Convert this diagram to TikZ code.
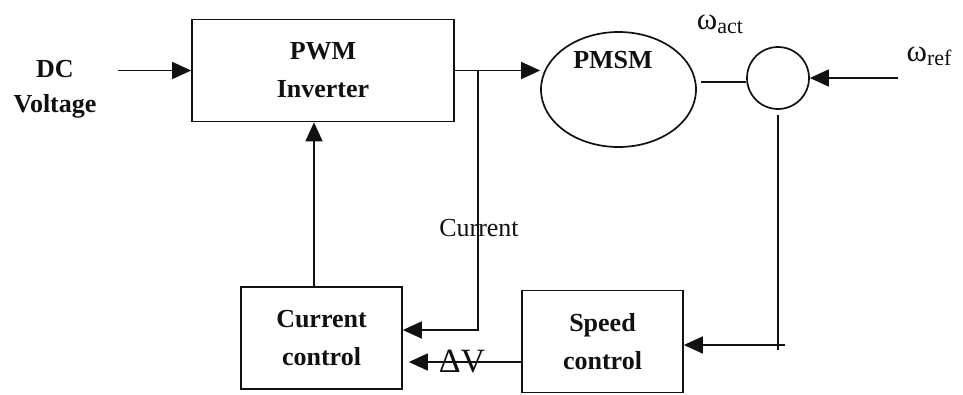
\documentclass[tikz,border=0pt]{standalone}
\usepackage{fontspec}
\setmainfont{Liberation Serif}
\usetikzlibrary{arrows.meta, positioning, calc, shapes.geometric}
\definecolor{inkline}{HTML}{111111}
\newcommand{\ctrlbox}[4]{%
  \node[draw=inkline, line width=1.7pt, minimum width=#3pt, minimum height=102pt,
        inner sep=0pt, align=center, text=inkline,
        font=\bfseries\fontsize{26}{38}\selectfont] (#1) at (#2) {#4};}

\begin{document}
\begin{tikzpicture}[x=1pt, y=-1pt, line width=1.7pt, color=inkline,
    sig/.style={-{Triangle[length=19pt, width=17pt]}},
    boldtxt/.style={font=\bfseries\fontsize{26}{35}\selectfont, align=center},
    plaintxt/.style={font=\fontsize{26}{30}\selectfont}]
  \useasboundingbox (0,0) rectangle (963,394);
  \ctrlbox{pwm}{323,70.5}{262}{PWM\\Inverter}
  \ctrlbox{curr}{321.5,338}{161}{Current\\control}
  \ctrlbox{speed}{602.5,341.5}{161}{Speed\\control}
  \node[draw, ellipse, minimum width=155pt, minimum height=115pt, inner sep=0pt] (pmsm) at (618.5,89.5) {};
  \node[boldtxt] (pmsmtxt) at (613,60) {PMSM};
  \node[draw, circle, minimum size=62pt, inner sep=0pt] (sum) at (778,78) {};
  \node[boldtxt] (dc) at (55,89) {DC\\Voltage};
  \node[plaintxt] (wact) at (720,24) {\fontsize{31}{31}\selectfont ω\raisebox{-4pt}{\fontsize{22}{22}\selectfont act}};
  \node[plaintxt] (wref) at (929,56) {\fontsize{31}{31}\selectfont ω\raisebox{-4pt}{\fontsize{22}{22}\selectfont ref}};
  \node[plaintxt] (curlbl) at (479,228) {Current};
  % forward path
  \coordinate (dcin) at (118,70.5);
  \draw[sig] (dcin) -- (pwm.west);
  \draw[sig] (pwm.east) -- (pwm.east -| pmsm.west);
  \draw ([yshift=-4pt]sum.west) -- ([xshift=4pt,yshift=-4pt]pmsm.east |- sum.west);
  \coordinate (wrefin) at (898,78);
  \draw[sig] (wrefin) -- (sum.east);
  % feedback loops
  \coordinate (tap) at (478,70.5);
  \draw[sig] (tap) |- ([yshift=8pt]curr.east);
  \draw[sig] ([xshift=-7.5pt]curr.north) -- ([xshift=-7.5pt]curr.north |- pwm.south);
  \coordinate (fbk) at (785,345);
  \draw ([yshift=-5pt]sum.south) -- ([yshift=-5pt]sum.south |- fbk);
  \draw[sig] (fbk) -- (fbk -| speed.east);
  \draw[sig, shorten >=6pt] ([yshift=-20.5pt]speed.west) -- ([yshift=-20.5pt]speed.west -| curr.east)
    node[pos=0.5, font=\fontsize{34}{34}\selectfont] (dv) {ΔV};
\end{tikzpicture}
\end{document}
